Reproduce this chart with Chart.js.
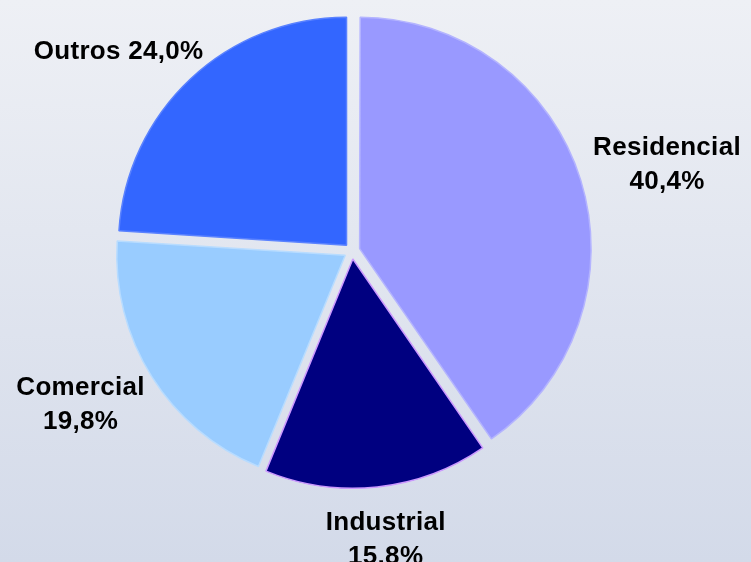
<!DOCTYPE html>
<html>
<head>
<meta charset="utf-8">
<script src="https://cdn.jsdelivr.net/npm/chart.js@4/dist/chart.umd.min.js"></script>
<style>
    html, body { margin: 0; padding: 0; }
    #grafico { width: 751px; height: 562px; }
</style>
</head>
<body>
<div id="grafico"><canvas width="751" height="562"></canvas></div>
<script>
const categorias = ['Residencial', 'Industrial', 'Comercial', 'Outros'];
const valores = [40.4, 15.8, 19.8, 24.0];
const cores = ['#9999FF', '#000080', '#99CCFF', '#3366FF'];
const bordas = ['#B4B4FF', '#CC99FF', '#B8DCFF', '#5A82FF'];
const umaLinha = [false, false, false, true];

const grafico = document.querySelector('#grafico canvas');

function formatarValor(v) {
    return v.toFixed(1).replace('.', ',') + '%';
}

const fundo = {
    id: 'fundo',
    beforeDraw(chart) {
        const ctx = chart.ctx;
        const grad = ctx.createLinearGradient(0, 0, 0, chart.height);
        grad.addColorStop(0, '#EEF0F5');
        grad.addColorStop(1, '#D3DAE9');
        ctx.save();
        ctx.fillStyle = grad;
        ctx.fillRect(0, 0, chart.width, chart.height);
        ctx.restore();
    }
};

const rotulos = {
    id: 'rotulos',
    afterDatasetsDraw(chart) {
        const ctx = chart.ctx;
        const meta = chart.getDatasetMeta(0);
        const alturaLinha = 34;
        ctx.save();
        ctx.font = 'bold 26px "Liberation Sans", Arial, sans-serif';
        ctx.letterSpacing = '0.3px';
        ctx.fillStyle = '#000000';
        ctx.textAlign = 'center';
        ctx.textBaseline = 'middle';
        meta.data.forEach((arco, i) => {
            const p = arco.getProps(['x', 'y', 'startAngle', 'endAngle', 'outerRadius']);
            const meio = (p.startAngle + p.endAngle) / 2;
            const texto = formatarValor(valores[i]);
            const linhas = umaLinha[i] ? [categorias[i] + ' ' + texto] : [categorias[i], texto];
            const larg = Math.max(...linhas.map(l => ctx.measureText(l).width));
            const alt = linhas.length * alturaLinha;
            const r = p.outerRadius + 28;
            const cx = p.x + Math.cos(meio) * r + Math.cos(meio) * larg / 2;
            const cy = p.y + Math.sin(meio) * r + Math.sin(meio) * alt / 2;
            linhas.forEach((l, k) => {
                ctx.fillText(l, cx, cy - alt / 2 + alturaLinha * (k + 0.5));
            });
        });
        ctx.restore();
    }
};

new Chart(grafico, {
    type: 'pie',
    data: {
        labels: categorias,
        datasets: [{
            data: valores,
            backgroundColor: cores,
            borderColor: bordas,
            borderWidth: 1.5,
            offset: 32,
        }]
    },
    options: {
        responsive: false,
        animation: false,
        radius: 228,
        layout: {
            padding: { left: 0, right: 47, top: 0, bottom: 60 }
        },
        plugins: {
            legend: { display: false },
            tooltip: { enabled: false }
        }
    },
    plugins: [fundo, rotulos]
});
</script>
</body>
</html>
